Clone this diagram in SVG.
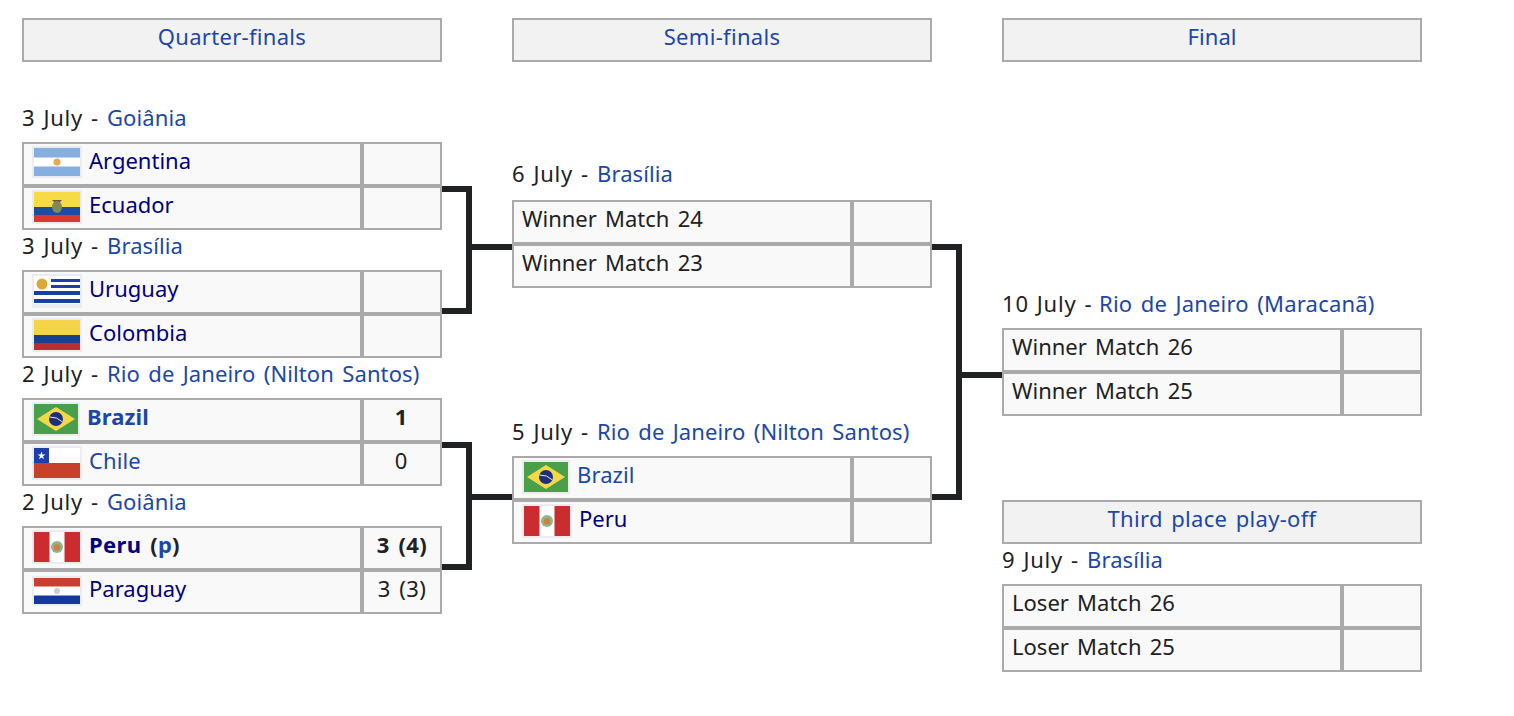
<svg xmlns="http://www.w3.org/2000/svg" width="1514" height="716" viewBox="0 0 1514 716">
<style>
text{font-family:"Noto Sans",sans-serif;font-size:22px;fill:#202122;word-spacing:2.5px}
.d{letter-spacing:.8px;word-spacing:1.5px}
.l{fill:#1c47a8;letter-spacing:.1px;word-spacing:2.5px}.n{fill:#000080}.b{font-weight:700}.c{text-anchor:middle}
.s{letter-spacing:.4px}
.box{fill:#f9f9f9;stroke:#aaa;stroke-width:2}
.sep{stroke:#aaa;stroke-width:4;fill:none}
.head{fill:#f2f2f2;stroke:#aaa;stroke-width:2}
.halo{fill:#eaecf0}
.con{fill:none;stroke:#202122;stroke-width:6}
</style>
<defs>
<g id="brazil"><rect x="-2" y="-2" width="48" height="34" class="halo"/><rect width="44" height="30" fill="#4a9f4b"/><path d="M22 3L41 15L22 27L3 15Z" fill="#f5d848"/><circle cx="22" cy="15" r="7" fill="#1c2f7c"/><path d="M15.500 13Q23 12.500 28.500 18" fill="none" stroke="#e8ecd8" stroke-width="1"/></g>
<g id="peru"><rect x="-2" y="-2" width="50" height="34" class="halo"/><rect width="46" height="30" fill="#cb2c30"/><rect x="15.500" width="15" height="30" fill="#fff"/><circle cx="23" cy="15" r="6" fill="#8fb58a"/><rect x="20" y="12.500" width="6" height="6" rx="2" fill="#d0803c"/></g>
</defs>
<g id="connectors">
<path class="con" d="M442 189H469V311H442M469 247H512"/>
<path class="con" d="M442 445H469V567H442M469 497H512"/>
<path class="con" d="M932 247H959V497H932M959 375H1002"/>
</g>
<g id="header-qf"><rect class="head" x="23" y="19" width="418" height="42"/><text class="l c" x="232" y="45" style="letter-spacing:.3px">Quarter-finals</text></g>
<g id="header-sf"><rect class="head" x="513" y="19" width="418" height="42"/><text class="l c" x="722" y="45" style="letter-spacing:.3px">Semi-finals</text></g>
<g id="header-f"><rect class="head" x="1003" y="19" width="418" height="42"/><text class="l c" x="1212" y="45">Final</text></g>
<g id="qf1">
<text class="d" x="22" y="126">3 July - <tspan class="l" x="107">Goiânia</tspan></text>
<rect class="box" x="23" y="143" width="418" height="86"/><path class="sep" d="M22 186H442M362 142V230"/>
<rect x="32" y="146" width="50" height="32" class="halo"/><rect x="34" y="148" width="46" height="28" fill="#fff"/><rect x="34" y="148" width="46" height="9.500" fill="#85afde"/><rect x="34" y="166.500" width="46" height="9.500" fill="#85afde"/><circle cx="57" cy="162" r="3.500" fill="#e7a94f"/>
<rect x="32" y="190" width="50" height="34" class="halo"/><rect x="34" y="192" width="46" height="15" fill="#f8da46"/><rect x="34" y="207" width="46" height="8" fill="#1f4ba0"/><rect x="34" y="215" width="46" height="7" fill="#dc3632"/><path d="M52 200H62L60 202H54Z" fill="#6b5a38"/><ellipse cx="57" cy="207" rx="5" ry="6" fill="#7f8a58"/>
<text class="n" x="89" y="169">Argentina</text><text class="n" x="89" y="213">Ecuador</text>
</g>
<g id="qf2">
<text class="d" x="22" y="254">3 July - <tspan class="l" x="107">Brasília</tspan></text>
<rect class="box" x="23" y="271" width="418" height="86"/><path class="sep" d="M22 314H442M362 270V358"/>
<rect x="32" y="274" width="50" height="34" class="halo"/><rect x="34" y="276" width="46" height="28" fill="#fff"/><path d="M51 280.500H80M51 286.500H80" stroke="#1b3fa5" stroke-width="3"/><path d="M34 293H80M34 301H80" stroke="#1b3fa5" stroke-width="4"/><circle cx="42" cy="284" r="5.500" fill="#d9a93a"/>
<rect x="32" y="318" width="50" height="34" class="halo"/><rect x="34" y="320" width="46" height="15" fill="#f6d44a"/><rect x="34" y="335" width="46" height="8" fill="#1b3d94"/><rect x="34" y="343" width="46" height="7" fill="#bd2c30"/>
<text class="n" x="89" y="297">Uruguay</text><text class="n" x="89" y="341">Colombia</text>
</g>
<g id="qf3">
<text class="d" x="22" y="382">2 July - <tspan class="l" x="107">Rio de Janeiro (Nilton Santos)</tspan></text>
<rect class="box" x="23" y="399" width="418" height="86"/><path class="sep" d="M22 442H442M362 398V486"/>
<use href="#brazil" x="34" y="404"/>
<rect x="32" y="446" width="50" height="34" class="halo"/><rect x="34" y="448" width="46" height="30" fill="#fff"/><rect x="34" y="448" width="15" height="15" fill="#1d3fa6"/><rect x="34" y="463" width="46" height="15" fill="#c8402c"/><path d="M41.500 451.500L42.500 454.500H45.500L43 456.300L44 459.300L41.500 457.500L39 459.300L40 456.300L37.500 454.500H40.500Z" fill="#fff"/>
<text class="l b" x="87" y="424.500">Brazil</text><text class="l" x="89" y="469">Chile</text>
<text class="b c" x="401" y="424.500">1</text><text class="c" x="401" y="469">0</text>
</g>
<g id="qf4">
<text class="d" x="22" y="510">2 July - <tspan class="l" x="107">Goiânia</tspan></text>
<rect class="box" x="23" y="527" width="418" height="86"/><path class="sep" d="M22 570H442M362 526V614"/>
<use href="#peru" x="34" y="532"/>
<rect x="32" y="576" width="50" height="30" class="halo"/><rect x="34" y="578" width="46" height="26" fill="#fff"/><rect x="34" y="578" width="46" height="8.500" fill="#c8402c"/><rect x="34" y="595.500" width="46" height="8.500" fill="#1438a0"/><circle cx="57" cy="591" r="3" fill="#c9cfc9"/>
<text class="n b s" x="89" y="552.500">Peru <tspan fill="#202122">(</tspan><tspan class="l">p</tspan><tspan fill="#202122">)</tspan></text><text class="n" x="89" y="597">Paraguay</text>
<text class="b c s" x="402" y="552.500">3 (4)</text><text class="c s" x="402" y="597">3 (3)</text>
</g>
<g id="sf1">
<text class="d" x="512" y="182">6 July - <tspan class="l" x="597">Brasília</tspan></text>
<rect class="box" x="513" y="201" width="418" height="86"/><path class="sep" d="M512 244H932M852 200V288"/>
<text x="522" y="227">Winner Match 24</text><text x="522" y="271">Winner Match 23</text>
</g>
<g id="sf2">
<text class="d" x="512" y="440">5 July - <tspan class="l" x="597">Rio de Janeiro (Nilton Santos)</tspan></text>
<rect class="box" x="513" y="457" width="418" height="86"/><path class="sep" d="M512 500H932M852 456V544"/>
<use href="#brazil" x="524" y="462"/><use href="#peru" x="524" y="506"/>
<text class="l" x="577" y="483">Brazil</text><text class="n" x="579" y="527">Peru</text>
</g>
<g id="final">
<text class="d" x="1002" y="312">10 July - <tspan class="l" x="1099" style="letter-spacing:.2px">Rio de Janeiro (Maracanã)</tspan></text>
<rect class="box" x="1003" y="329" width="418" height="86"/><path class="sep" d="M1002 372H1422M1342 328V416"/>
<text x="1012" y="355">Winner Match 26</text><text x="1012" y="399">Winner Match 25</text>
</g>
<g id="third">
<rect class="head" x="1003" y="501" width="418" height="42"/><text class="l c" x="1212" y="527" style="letter-spacing:.3px">Third place play-off</text>
<text class="d" x="1002" y="568">9 July - <tspan class="l" x="1087">Brasília</tspan></text>
<rect class="box" x="1003" y="585" width="418" height="86"/><path class="sep" d="M1002 628H1422M1342 584V672"/>
<text x="1012" y="611">Loser Match 26</text><text x="1012" y="655">Loser Match 25</text>
</g>
</svg>
